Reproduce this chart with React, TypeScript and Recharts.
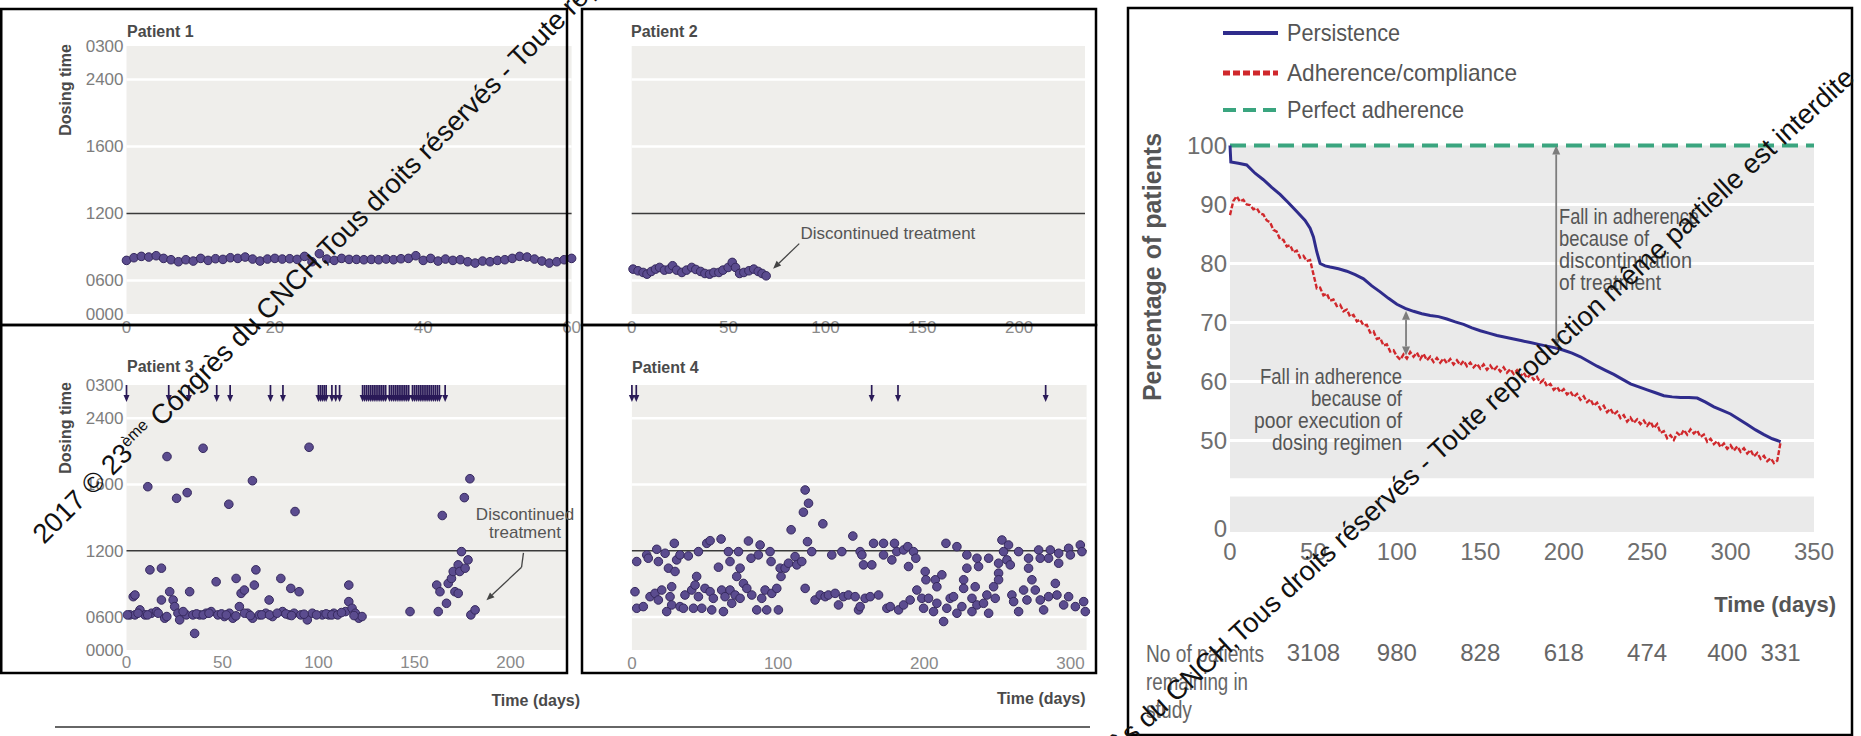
import React from 'react';
import { ScatterChart, Scatter, LineChart, Line, XAxis, YAxis, ReferenceArea, ReferenceLine } from 'recharts';

const SANS = "'Liberation Sans', Arial, Helvetica, sans-serif";

// ---------------- Left panels: dosing time scale ----------------
const DOSE_TICKS = [0, 1, 3, 5, 7, 8];
const DOSE_TICK_LABELS = ['0000', '0600', '1200', '1600', '2400', '0300'];
const DOSE_TOP = 8;

// Patient 1: one dose per day, days 0..60
const P1_DOSE = [
  1.60, 1.68, 1.72, 1.70, 1.74, 1.66, 1.62, 1.56, 1.62, 1.58,
  1.66, 1.60, 1.65, 1.63, 1.68, 1.66, 1.70, 1.64, 1.58, 1.64,
  1.66, 1.64, 1.65, 1.63, 1.72, 1.56, 1.80, 1.64, 1.60, 1.66,
  1.63, 1.63, 1.62, 1.63, 1.62, 1.64, 1.62, 1.65, 1.66, 1.74,
  1.60, 1.66, 1.58, 1.64, 1.60, 1.62, 1.56, 1.52, 1.58, 1.56,
  1.60, 1.62, 1.66, 1.72, 1.70, 1.64, 1.58, 1.52, 1.56, 1.62,
  1.66,
];
const P1_TICKS = [0, 20, 40, 60];

// Patient 2
const P2_DAYS = [0.7, 3.3, 5.9, 7.9, 10.1, 12.3, 14.4, 16.9, 19.4, 21.1, 23.2, 25.9, 28.3, 31.0, 33.1, 35.6, 37.8, 40.2, 42.4, 45.0, 47.1, 49.8, 51.9, 53.6, 55.7, 57.9, 60.5, 63.0, 65.3, 67.3, 69.4];
const P2_DOSE = [1.34, 1.29, 1.24, 1.19, 1.27, 1.34, 1.39, 1.31, 1.34, 1.44, 1.31, 1.24, 1.31, 1.39, 1.33, 1.27, 1.21, 1.19, 1.24, 1.24, 1.31, 1.39, 1.54, 1.39, 1.21, 1.24, 1.29, 1.34, 1.27, 1.21, 1.14];
const P2_TICKS = [0, 50, 100, 150, 200];

// Patient 3: [day, dosing time]
const P3_DOSES = [
  [11.1, 4.93], [21.1, 5.84], [26.1, 4.58], [31.6, 4.75], [39.9, 6.09], [53.3, 4.40], [65.6, 5.11], [87.8, 4.18], [95.1, 6.12],
  [164.5, 4.06], [176.0, 4.60], [178.9, 5.17],
  [1.8, 1.06], [3.5, 1.61], [4.4, 1.66], [4.4, 1.06], [7.0, 1.21], [9.6, 1.06], [12.2, 2.42], [13.0, 1.11], [15.6, 1.16],
  [18.2, 1.51], [18.2, 2.47], [19.9, 0.96], [22.5, 1.76], [24.3, 1.51], [25.1, 1.31], [26.8, 1.11], [27.7, 0.91], [32.9, 1.76],
  [31.2, 1.06], [35.5, 0.50], [34.6, 1.06], [38.1, 1.06], [41.5, 1.11], [44.1, 1.16], [46.7, 2.06], [47.6, 1.06], [51.0, 1.01],
  [53.6, 1.11], [55.4, 0.96], [57.1, 2.16], [58.8, 1.31], [59.7, 1.71], [61.4, 1.81], [63.1, 1.11], [65.7, 0.96], [66.6, 1.96],
  [67.4, 2.42], [69.2, 1.06], [72.6, 1.11], [74.3, 1.51], [76.1, 1.01], [80.4, 2.16], [81.3, 1.16], [84.7, 1.06], [85.6, 1.86],
  [87.3, 1.11], [89.9, 1.76], [90.8, 1.06], [94.2, 0.91], [96.8, 1.11], [102.0, 1.06], [105.4, 1.06], [108.0, 1.11], [114.1, 1.16],
  [115.8, 1.96], [115.8, 1.46], [117.5, 1.26], [119.2, 1.11], [121.0, 0.96], [122.7, 1.01], [147.7, 1.16], [162.4, 1.16],
  [161.6, 1.96], [163.3, 1.76], [166.7, 1.41], [167.6, 2.01], [169.3, 2.16], [170.2, 2.37], [171.1, 1.76], [172.8, 1.71],
  [172.8, 2.57], [174.5, 2.97], [173.6, 2.37], [176.4, 2.47], [177.9, 2.72], [179.4, 1.06], [181.6, 1.21],
  [0.5, 1.06], [6.0, 1.11], [11.0, 1.06], [16.5, 1.11], [21.0, 1.01], [29.5, 1.16], [36.5, 1.09], [40.0, 1.06], [43.0, 1.11],
  [49.5, 1.09], [52.0, 1.06], [57.0, 1.03], [61.5, 1.11], [64.5, 1.04], [70.5, 1.06], [74.5, 1.06], [78.5, 1.11], [83.0, 1.09],
  [86.0, 1.04], [92.5, 1.08], [99.0, 1.06], [104.0, 1.09], [107.0, 1.06], [110.0, 1.06], [112.0, 1.13], [118.5, 1.04],
];
const P3_MISSED = [
  0, 22, 32.5, 47, 54, 75, 81.5, 100, 101, 102, 103, 104, 107, 109, 111,
  123, 124, 125, 126, 127, 128, 129, 130, 131, 132, 133, 134, 135, 137, 138, 139, 140, 141, 142, 143, 144, 145, 146, 147,
  149, 150, 151, 152, 153, 154, 155, 156, 157, 158, 159, 160, 161, 162, 163, 166,
];
const P3_TICKS = [0, 50, 100, 150, 200];

// Patient 4
const P4_DOSES = [
  [3.3, 2.67], [10.1, 2.87], [11.2, 2.77], [17.0, 3.04], [18.1, 2.67], [22.7, 2.92], [25.0, 2.47], [29.5, 2.37], [29.0, 3.22],
  [30.6, 2.72], [32.9, 2.87], [38.6, 2.84], [45.5, 2.97], [51.2, 3.22], [53.5, 3.30], [59.2, 2.50], [61.0, 3.35], [66.0, 2.97],
  [67.1, 2.67], [72.9, 2.97], [74.0, 2.47], [71.7, 2.22], [79.7, 3.29], [81.5, 2.77], [86.5, 2.87], [87.7, 3.17], [94.5, 2.97],
  [95.2, 2.67], [101.4, 2.47], [102.0, 2.22], [104.8, 2.47], [107.1, 2.62], [111.6, 2.82], [112.8, 2.57], [116.2, 2.67],
  [108.9, 3.63], [118.5, 4.83], [120.8, 4.43], [117.3, 4.16], [120.1, 3.27], [123.0, 2.97], [130.6, 3.81], [136.7, 2.87],
  [143.6, 2.97], [151.1, 3.44], [156.1, 2.97],
  [2.1, 1.76], [3.3, 1.26], [7.8, 1.31], [12.4, 1.61], [15.8, 1.71], [18.1, 1.51], [20.4, 1.81], [23.8, 1.16], [26.1, 1.61],
  [27.2, 1.91], [27.2, 1.36], [32.9, 1.31], [36.3, 1.66], [35.2, 1.26], [40.9, 1.81], [43.2, 1.96], [44.3, 2.22], [42.1, 1.26],
  [45.5, 1.61], [47.8, 1.26], [50.0, 1.86], [53.5, 1.76], [54.6, 1.21], [55.7, 1.56], [62.6, 1.16], [61.4, 1.81], [63.7, 1.61],
  [67.1, 1.81], [68.3, 1.41], [70.6, 1.66], [74.0, 1.56], [76.3, 2.01], [78.6, 1.86], [82.0, 1.66], [85.4, 1.21], [88.8, 1.56],
  [92.2, 1.21], [91.1, 1.81], [95.7, 1.71], [99.1, 1.86], [100.2, 1.21], [118.5, 1.86], [125.3, 1.51], [128.8, 1.66],
  [132.2, 1.61], [134.4, 1.66], [139.0, 1.71], [141.3, 1.36], [144.7, 1.61], [148.1, 1.66], [152.7, 1.61], [155.0, 1.21],
  [157.3, 2.87], [158.4, 2.57], [164.1, 2.57], [165.3, 3.22], [172.1, 3.22], [172.1, 2.87], [177.8, 2.72], [179.6, 3.22],
  [181.2, 2.97], [185.8, 3.02], [188.7, 3.12], [189.2, 2.52], [192.6, 2.97], [194.2, 2.77], [200.6, 2.37], [201.1, 2.12],
  [207.5, 2.12], [208.6, 1.91], [212.0, 2.27], [214.8, 3.22], [222.3, 3.12], [229.1, 2.87], [229.1, 2.47], [226.9, 2.12],
  [226.9, 1.86], [234.8, 1.91], [236.0, 2.77], [237.1, 2.52], [244.0, 2.77], [250.8, 2.62], [250.8, 2.32], [250.8, 2.12],
  [253.1, 3.32], [254.2, 2.97], [256.5, 2.72], [257.6, 3.17], [258.8, 2.57], [264.5, 2.97], [271.3, 2.77], [271.3, 2.47],
  [278.2, 3.02], [279.3, 2.77], [285.0, 2.77], [286.2, 3.02], [291.9, 2.92], [291.9, 2.62], [298.7, 3.07], [299.9, 2.87],
  [306.7, 3.17], [307.8, 2.97],
  [156.1, 1.31], [159.5, 1.56], [163.0, 1.61], [168.7, 1.66], [174.4, 1.26], [176.7, 1.31], [182.4, 1.21], [185.8, 1.36],
  [190.3, 1.51], [194.9, 1.81], [198.3, 1.56], [199.5, 1.26], [202.9, 1.56], [206.3, 1.16], [208.6, 1.41], [213.2, 0.86],
  [215.4, 1.26], [217.7, 1.56], [220.0, 1.61], [222.3, 1.11], [225.7, 1.31], [232.6, 1.56], [232.6, 1.16], [236.0, 1.36],
  [240.5, 1.41], [242.8, 1.66], [244.0, 1.11], [247.4, 1.91], [248.5, 1.56], [259.9, 1.66], [261.1, 1.46], [264.5, 1.16],
  [267.9, 1.81], [270.2, 1.51], [273.6, 2.12], [275.9, 1.81], [279.3, 1.51], [281.6, 1.21], [285.0, 1.61], [289.6, 2.01],
  [290.7, 1.66], [295.3, 1.36], [298.7, 1.61], [303.3, 1.31], [309.0, 1.46], [310.1, 1.16],
];
const P4_MISSED = [0, 3, 164, 182, 283];
const P4_TICKS = [0, 100, 200, 300];

// ---------------- Right chart ----------------
const PERSIST_DAYS = [0, 0.5, 5, 10, 15, 20, 25, 30, 35, 40, 45, 48, 50, 52, 54, 57, 60, 65, 70, 75, 80, 85, 90, 95, 100, 105, 110, 115, 120, 125, 130, 135, 140, 145, 150, 155, 160, 165, 170, 175, 180, 185, 190, 195, 200, 205, 210, 215, 220, 225, 230, 235, 240, 245, 250, 255, 260, 265, 270, 275, 280, 285, 290, 295, 300, 305, 310, 315, 320, 325, 328, 330];
const PERSIST = [100, 97.2, 97, 96.7, 95.3, 94.2, 92.9, 91.7, 90.3, 88.8, 87.3, 86, 84.5, 82, 80, 79.6, 79.4, 79.1, 78.7, 78.1, 77.4, 76.2, 75.2, 74.1, 73.1, 72.4, 71.9, 71.5, 71.2, 71, 70.6, 70.1, 69.7, 69.1, 68.6, 68.2, 67.8, 67.5, 67.2, 66.9, 66.6, 66.3, 66, 65.7, 65.3, 64.8, 64.2, 63.4, 62.6, 61.9, 61.2, 60.4, 59.6, 59.1, 58.6, 58.1, 57.6, 57.4, 57.3, 57.3, 57.2, 56.5, 55.7, 55.1, 54.5, 53.6, 52.7, 51.8, 51, 50.3, 50, 49.8];
// adherence sampled every 2 days from day 0 to day 330
const ADHERENCE_STEP = 2;
const ADHERENCE = [
  88.2, 90.6, 91.4, 90.5, 90.8, 90.0, 89.9, 89.2, 89.4, 88.5,
  88.3, 87.3, 87.0, 85.7, 85.4, 84.1, 84.0, 82.9, 83.1, 81.9,
  82.2, 81.0, 81.3, 80.4, 80.6, 78.2, 75.8, 75.9, 74.6, 74.9,
  73.7, 73.9, 72.8, 73.0, 71.9, 72.2, 71.0, 71.3, 70.2, 70.5,
  69.5, 69.6, 68.3, 68.5, 67.2, 67.4, 66.1, 66.3, 65.1, 65.3,
  64.3, 63.7, 64.6, 63.9, 65.0, 64.2, 64.9, 63.8, 64.7, 63.6,
  64.2, 63.3, 64.0, 63.2, 63.9, 63.1, 63.8, 62.9, 63.6, 62.8,
  63.5, 62.6, 63.2, 62.4, 63.0, 62.2, 62.9, 62.0, 62.7, 61.9,
  62.5, 61.7, 62.4, 61.5, 62.1, 61.3, 61.9, 60.9, 61.5, 60.6,
  61.2, 60.3, 60.8, 59.8, 60.3, 59.2, 59.6, 58.6, 59.1, 58.2,
  58.7, 57.8, 58.3, 57.4, 57.9, 56.9, 57.5, 56.5, 57.0, 55.9,
  56.4, 55.3, 55.9, 54.8, 55.4, 54.4, 54.9, 53.8, 54.3, 53.2,
  53.9, 53.0, 53.6, 52.8, 53.4, 52.5, 53.2, 52.1, 52.8, 51.3,
  51.6, 50.4, 50.9, 50.1, 51.3, 50.8, 51.8, 51.0, 51.9, 51.2,
  51.7, 50.6, 51.0, 49.8, 50.3, 49.4, 49.9, 48.9, 49.5, 48.6,
  49.2, 48.3, 49.0, 48.1, 48.7, 47.8, 48.4, 47.3, 47.9, 46.9,
  47.4, 46.5, 47.0, 46.2, 46.6, 49.8,
];
const PERFECT_DAYS = [0, 350];
const PERFECT = [100, 100];
const TIME_TICKS = [0, 50, 100, 150, 200, 250, 300, 350];
const PCT_TICKS = [35, 50, 60, 70, 80, 90, 100];
const PCT_LABELS = ['0', '50', '60', '70', '80', '90', '100'];
const PCT_GRID = [50, 60, 70, 80, 90];
const RISK_DAYS = [50, 100, 150, 200, 250, 298, 330];
const RISK_COUNTS = ['3108', '980', '828', '618', '474', '400', '331'];
const FALL_DISC = ['Fall in adherence', 'because of', 'discontinuation', 'of treatment'];
const FALL_DISC_W = [140, 90, 133, 102];
const FALL_EXEC = ['Fall in adherence', 'because of', 'poor execution of', 'dosing regimen'];
const FALL_EXEC_W = [142, 91, 148, 130];
const LEGEND = ['Persistence', 'Adherence/compliance', 'Perfect adherence'];
const LEGEND_W = [113, 230, 177];
const RISK_TITLE = ['No of patients', 'remaining in', 'study'];
const RISK_TITLE_W = [118, 102, 46];

// ---------------- helpers ----------------
type Pt = { d: number; v: number };
const pairsToPts = (pairs: number[][]): Pt[] => pairs.map(([d, v]) => ({ d, v }));
const p1Data: Pt[] = P1_DOSE.map((v, i) => ({ d: i, v }));
const p2Data: Pt[] = P2_DAYS.map((d, i) => ({ d, v: P2_DOSE[i] }));
const p3Data = pairsToPts(P3_DOSES);
const p4Data = pairsToPts(P4_DOSES);
const p3Missed: Pt[] = P3_MISSED.map((d) => ({ d, v: DOSE_TOP }));
const p4Missed: Pt[] = P4_MISSED.map((d) => ({ d, v: DOSE_TOP }));
const persistData: Pt[] = PERSIST_DAYS.map((d, i) => ({ d, v: PERSIST[i] }));
const adherenceData: Pt[] = ADHERENCE.map((v, i) => ({ d: i * ADHERENCE_STEP, v }));
const perfectData: Pt[] = PERFECT_DAYS.map((d, i) => ({ d, v: PERFECT[i] }));

const PANEL_BG = '#efeeeb';
const DOT_FILL = '#5b4c8f';
const DOT_STROKE = '#36295e';
const ARROW_COL = '#2a1a58';
const TEXT_GREY = '#555';

const dotShape = (p: any) => (
  <circle cx={p.cx} cy={p.cy} r={4.3} fill={DOT_FILL} stroke={DOT_STROKE} strokeWidth={1} />
);
const missedShape = (p: any) => {
  const { cx, cy } = p;
  return (
    <g>
      <line x1={cx} y1={cy} x2={cx} y2={cy + 11} stroke={ARROW_COL} strokeWidth={1.7} />
      <polygon points={`${cx - 3},${cy + 10} ${cx + 3},${cy + 10} ${cx},${cy + 17}`} fill={ARROW_COL} />
    </g>
  );
};
const plainSeg = (p: any) => <line x1={p.x1} y1={p.y1} x2={p.x2} y2={p.y2} stroke="#444" strokeWidth={1.3} />;
const headSeg = (p: any) => {
  const { x1, y1, x2, y2 } = p;
  const dx = x2 - x1, dy = y2 - y1;
  const L = Math.hypot(dx, dy) || 1;
  const ux = dx / L, uy = dy / L;
  const h = 8, w = 3.3;
  const bx = x2 - ux * h, by = y2 - uy * h;
  return (
    <g>
      <line x1={x1} y1={y1} x2={bx} y2={by} stroke="#444" strokeWidth={1.3} />
      <polygon points={`${x2},${y2} ${bx - uy * w},${by + ux * w} ${bx + uy * w},${by - ux * w}`} fill="#444" />
    </g>
  );
};
const doubleArrow = (p: any) => {
  const { x1, y1, x2, y2 } = p;
  const top = Math.min(y1, y2), bot = Math.max(y1, y2);
  const h = 9, w = 4;
  const c = '#7d7d7d';
  return (
    <g>
      <line x1={x1} y1={top + h} x2={x2} y2={bot - h} stroke={c} strokeWidth={1.8} />
      <polygon points={`${x1},${top} ${x1 - w},${top + h} ${x1 + w},${top + h}`} fill={c} />
      <polygon points={`${x2},${bot} ${x2 - w},${bot - h} ${x2 + w},${bot - h}`} fill={c} />
    </g>
  );
};

const leftYTick = (p: any) => (
  <text x={p.x} y={p.y} dy="0.35em" textAnchor="end" fontSize={17} fill="#7d7d7d" fontFamily={SANS}>
    {DOSE_TICK_LABELS[DOSE_TICKS.indexOf(p.payload.value)]}
  </text>
);
const leftXTick = (offset: number) => (p: any) => (
  <text x={p.x} y={p.y + offset} dy="0.35em" textAnchor="middle" fontSize={17} fill="#8a8a8a" fontFamily={SANS}>
    {p.payload.value}
  </text>
);
const rightXTick = (p: any) => (
  <text x={p.x} y={p.y + 20} dy="0.35em" textAnchor="middle" fontSize={24} fill="#6e6e6e" fontFamily={SANS}>
    {p.payload.value}
  </text>
);
const rightYTick = (p: any) => (
  <text x={p.x} y={p.y} dy="0.35em" textAnchor="end" fontSize={24} fill="#6e6e6e" fontFamily={SANS}>
    {PCT_LABELS[PCT_TICKS.indexOf(p.payload.value)]}
  </text>
);

interface PanelProps {
  left: number; top: number; width: number; height: number;
  plotTop: number; yAxisWidth: number; marginRight: number; xAxisHeight: number;
  xMax: number; xTicks: number[]; xTickOffset: number; showYTicks: boolean;
  dots: Pt[]; missed?: Pt[]; children?: React.ReactNode;
}

function DosePanel(p: PanelProps) {
  return (
    <div style={{ position: 'absolute', left: p.left, top: p.top }}>
      <ScatterChart width={p.width} height={p.height} margin={{ top: p.plotTop, right: p.marginRight, bottom: 0, left: 0 }}>
        <XAxis type="number" dataKey="d" domain={[0, p.xMax]} ticks={p.xTicks} interval={0}
          axisLine={false} tickLine={false} tickSize={0} tickMargin={0} height={p.xAxisHeight} tick={leftXTick(p.xTickOffset)} />
        <YAxis type="number" dataKey="v" domain={[0, DOSE_TOP]} ticks={DOSE_TICKS} interval={0}
          axisLine={false} tickLine={false} tickSize={0} tickMargin={3} width={p.yAxisWidth}
          tick={p.showYTicks ? leftYTick : false} />
        <ReferenceArea x1={0} x2={p.xMax} y1={0} y2={DOSE_TOP} fill={PANEL_BG} fillOpacity={1} stroke="none" />
        {[1, 5, 7].map((v) => <ReferenceLine key={v} y={v} stroke="#ffffff" strokeWidth={2.5} />)}
        <ReferenceLine y={3} stroke="#3a3a3a" strokeWidth={1.5} />
        {p.children}
        <Scatter data={p.dots} shape={dotShape} isAnimationActive={false} />
        {p.missed ? <Scatter data={p.missed} shape={missedShape} isAnimationActive={false} /> : null}
      </ScatterChart>
    </div>
  );
}

// right chart geometry (for the numbers-at-risk row)
const R_LEFT = 1130, R_TOP = 10, R_W = 720, R_H = 600, R_YW = 100, R_MR = 36;
const R_PLOT_L = R_LEFT + R_YW;
const R_PLOT_W = R_W - R_YW - R_MR;
const dayToX = (d: number) => R_PLOT_L + (d / 350) * R_PLOT_W;

function RightChart() {
  return (
    <div style={{ position: 'absolute', left: R_LEFT, top: R_TOP }}>
      <LineChart width={R_W} height={R_H} margin={{ top: 135.5, right: R_MR, bottom: 0, left: 0 }}>
        <XAxis type="number" dataKey="d" domain={[0, 350]} ticks={TIME_TICKS} interval={0}
          axisLine={false} tickLine={false} tickSize={0} tickMargin={0} height={78} tick={rightXTick} />
        <YAxis type="number" dataKey="v" domain={[34.5, 100]} ticks={PCT_TICKS} interval={0}
          axisLine={false} tickLine={false} tickSize={0} tickMargin={3} width={R_YW} tick={rightYTick} />
        <ReferenceArea x1={0} x2={350} y1={34.5} y2={100} fill="#eaeaea" fillOpacity={1} stroke="none" />
        <ReferenceArea x1={0} x2={350} y1={40.5} y2={43.6} fill="#ffffff" fillOpacity={1} stroke="none" />
        {PCT_GRID.map((v) => <ReferenceLine key={v} y={v} stroke="#ffffff" strokeWidth={3} />)}
        <Line data={perfectData} dataKey="v" stroke="#3aa57f" strokeWidth={4} strokeDasharray="16 8"
          dot={false} activeDot={false} isAnimationActive={false} />
        <Line data={adherenceData} dataKey="v" stroke="#d0282c" strokeWidth={2.4} strokeDasharray="5 2"
          dot={false} activeDot={false} isAnimationActive={false} />
        <Line data={persistData} dataKey="v" stroke="#2f2c8c" strokeWidth={3}
          dot={false} activeDot={false} isAnimationActive={false} />
        <ReferenceLine segment={[{ x: 195.5, y: 100 }, { x: 195.5, y: 65.7 }]} shape={doubleArrow} />
        <ReferenceLine segment={[{ x: 105.5, y: 72.0 }, { x: 105.5, y: 64.4 }]} shape={doubleArrow} />
      </LineChart>
    </div>
  );
}

const WATERMARK_A = '2017 © 23';
const WATERMARK_SUP = 'ème';
const WATERMARK_B = ' Congrès du CNCH,Tous droits réservés - Toute reproduction même partielle est interdite';

function Overlay() {
  const legendY = [33, 73, 110];
  return (
    <svg width={1861} height={736} style={{ position: 'absolute', left: 0, top: 0, pointerEvents: 'none' }}>
      {/* panel frames */}
      <g fill="none" stroke="#000" strokeWidth={2.5}>
        <rect x={1.25} y={9} width={565.75} height={316} />
        <rect x={1.25} y={325} width={565.75} height={348} />
        <rect x={582} y={9} width={514} height={316} />
        <rect x={582} y={325} width={514} height={348} />
        <rect x={1128} y={8} width={724} height={727} />
      </g>
      <line x1={55} y1={727} x2={1090} y2={727} stroke="#333" strokeWidth={1.5} />

      {/* left panel titles */}
      <g fontFamily={SANS} fontWeight="bold" fontSize={16} fill="#4a4a4a">
        <text x={127} y={37}>Patient 1</text>
        <text x={631} y={37}>Patient 2</text>
        <text x={127} y={372}>Patient 3</text>
        <text x={632} y={373}>Patient 4</text>
        <text x={65} y={90} dy="0.35em" textAnchor="middle" transform="rotate(-90 65 90)">Dosing time</text>
        <text x={65} y={428} dy="0.35em" textAnchor="middle" transform="rotate(-90 65 428)">Dosing time</text>
        <text x={580} y={706} textAnchor="end">Time (days)</text>
        <text x={1085.5} y={704} textAnchor="end">Time (days)</text>
      </g>
      <g fontFamily={SANS} fontSize={17} fill={TEXT_GREY}>
        <text x={800.5} y={239}>Discontinued treatment</text>
        <text x={525} y={520} textAnchor="middle">Discontinued</text>
        <text x={525} y={538} textAnchor="middle">treatment</text>
      </g>

      {/* right chart legend */}
      <line x1={1223} y1={legendY[0]} x2={1278} y2={legendY[0]} stroke="#2f2c8c" strokeWidth={4} />
      <line x1={1223} y1={legendY[1]} x2={1278} y2={legendY[1]} stroke="#d0282c" strokeWidth={5} strokeDasharray="7 3" />
      <line x1={1223} y1={legendY[2]} x2={1278} y2={legendY[2]} stroke="#3aa57f" strokeWidth={4} strokeDasharray="13 7" />
      <g fontFamily={SANS} fontSize={24} fill={TEXT_GREY}>
        {LEGEND.map((t, i) => (
          <text key={t} x={1287} y={legendY[i]} dy="0.35em" textLength={LEGEND_W[i]} lengthAdjust="spacingAndGlyphs">{t}</text>
        ))}
      </g>
      <text x={1152} y={267} dy="0.35em" textAnchor="middle" transform="rotate(-90 1152 267)"
        fontFamily={SANS} fontWeight="bold" fontSize={25} fill={TEXT_GREY}>Percentage of patients</text>
      <text x={1836} y={612} textAnchor="end" fontFamily={SANS} fontWeight="bold" fontSize={22} fill={TEXT_GREY}>Time (days)</text>
      <g fontFamily={SANS} fontSize={22} fill={TEXT_GREY}>
        {FALL_DISC.map((t, i) => (
          <text key={'a' + i} x={1559} y={216 + i * 22} dy="0.35em" textLength={FALL_DISC_W[i]} lengthAdjust="spacingAndGlyphs">{t}</text>
        ))}
        {FALL_EXEC.map((t, i) => (
          <text key={'b' + i} x={1402 - FALL_EXEC_W[i]} y={376 + i * 22} dy="0.35em" textLength={FALL_EXEC_W[i]} lengthAdjust="spacingAndGlyphs">{t}</text>
        ))}
      </g>
      <g fontFamily={SANS} fontSize={23} fill="#666">
        {RISK_TITLE.map((t, i) => (
          <text key={t} x={1146} y={654 + i * 28} dy="0.35em" textLength={RISK_TITLE_W[i]} lengthAdjust="spacingAndGlyphs">{t}</text>
        ))}
      </g>
      <g fontFamily={SANS} fontSize={24} fill="#666">
        {RISK_DAYS.map((d, i) => (
          <text key={d} x={dayToX(d)} y={653} dy="0.35em" textAnchor="middle">{RISK_COUNTS[i]}</text>
        ))}
      </g>

      {/* watermarks */}
      <g fontFamily={SANS} fontSize={27.5} fill="#111">
        <text x={44} y={545} transform="rotate(-45 44 545)">
          {WATERMARK_A}<tspan fontSize={16} dy={-10}>{WATERMARK_SUP}</tspan><tspan dy={10}>{WATERMARK_B}</tspan>
        </text>
        <text x={1856} y={80} textAnchor="end" transform="rotate(-42.5 1856 80)">
          {WATERMARK_A}<tspan fontSize={16} dy={-10}>{WATERMARK_SUP}</tspan><tspan dy={10}>{WATERMARK_B}</tspan>
        </text>
      </g>
    </svg>
  );
}

export default function App() {
  return (
    <div style={{ position: 'absolute', left: 0, top: 0, width: 1861, height: 736, overflow: 'hidden', background: '#fff', fontFamily: SANS }}>
      <DosePanel left={0} top={0} width={600} height={345} plotTop={46} yAxisWidth={126.5} marginRight={28.4}
        xAxisHeight={31} xMax={60} xTicks={P1_TICKS} xTickOffset={13} showYTicks dots={p1Data} />
      <DosePanel left={582} top={0} width={520} height={345} plotTop={46} yAxisWidth={49.7} marginRight={17}
        xAxisHeight={31} xMax={234} xTicks={P2_TICKS} xTickOffset={13} showYTicks={false} dots={p2Data}>
        <ReferenceLine segment={[{ x: 86.5, y: 2.1 }, { x: 73, y: 1.35 }]} shape={headSeg} />
      </DosePanel>
      <DosePanel left={0} top={325} width={600} height={400} plotTop={60} yAxisWidth={126.5} marginRight={32}
        xAxisHeight={75} xMax={230} xTicks={P3_TICKS} xTickOffset={12} showYTicks dots={p3Data} missed={p3Missed}>
        <ReferenceLine segment={[{ x: 206.8, y: 2.93 }, { x: 205.8, y: 2.5 }]} shape={plainSeg} />
        <ReferenceLine segment={[{ x: 205.8, y: 2.5 }, { x: 187.5, y: 1.5 }]} shape={headSeg} />
      </DosePanel>
      <DosePanel left={582} top={325} width={520} height={400} plotTop={60} yAxisWidth={49.9} marginRight={15.4}
        xAxisHeight={75} xMax={311} xTicks={P4_TICKS} xTickOffset={13} showYTicks={false} dots={p4Data} missed={p4Missed} />
      <RightChart />
      <Overlay />
    </div>
  );
}
